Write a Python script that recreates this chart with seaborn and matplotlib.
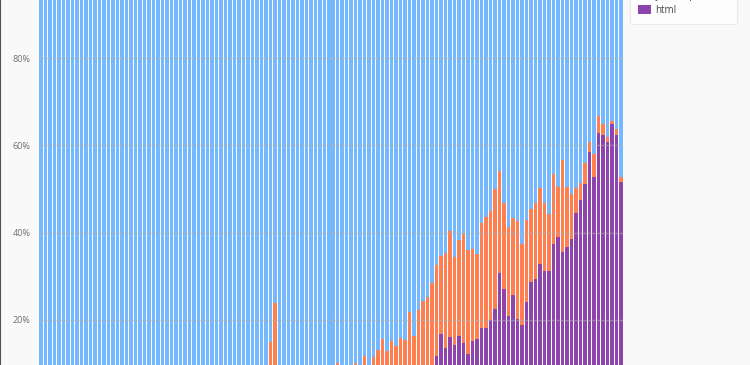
import numpy as np
import pandas as pd
import matplotlib
matplotlib.use("Agg")
import matplotlib.pyplot as plt
from matplotlib.patches import Patch
import seaborn as sns

# share per period (%)
html_pct = [0] * 80 + [
    2, 3, 4, 5, 6, 7, 8, 9,
    11.7, 16.7, 13.5, 16.0, 14.2, 16.3, 14.7, 12.1, 15.1, 15.6,
    18.1, 18.1, 19.9, 22.5, 30.7, 27.0, 20.8, 25.7, 20.2, 18.8,
    24.1, 28.6, 29.3, 32.8, 31.2, 31.2, 37.3, 38.9, 35.5, 36.7,
    38.5, 44.4, 47.4, 51.1, 58.4, 52.7, 62.8, 62.3, 60.7, 64.8,
    62.5, 51.5,
]
# html + orange series (top of orange segment)
orange_top_pct = [
    0, 0, 0, 0, 0, 0, 0, 0, 0, 0,
    0, 0, 0, 0, 0, 0, 0, 0, 0, 0,
    0, 0, 0, 0, 0, 0, 0, 0, 0, 0,
    0, 0, 0, 0, 0, 0, 0, 0, 0, 0,
    0, 0, 0, 0, 0, 0, 0, 0, 1, 2,
    3, 14.9, 23.8, 4, 3, 2, 3, 4, 3, 5,
    4, 6, 5, 7, 6, 8, 10.1, 7, 8, 9,
    10.1, 9, 11.7, 9, 11.5, 13.1, 15.6, 12.8, 15.1, 14.0,
    15.8, 15.3, 21.8, 16.3, 22.2, 24.3, 25.2, 28.4, 32.5, 34.6,
    35.3, 40.3, 34.4, 38.3, 39.6, 36.0, 36.2, 35.1, 42.2, 43.5,
    44.9, 49.9, 54.1, 46.7, 41.2, 43.3, 42.6, 37.3, 42.8, 45.4,
    46.7, 50.2, 46.7, 44.2, 53.4, 50.4, 56.6, 50.4, 48.8, 50.2,
    51.3, 55.9, 60.7, 58.0, 66.7, 64.8, 61.9, 65.5, 63.7, 52.7,
]
periods = list(range(len(html_pct)))
labels = ["other languages", "javascript", "html"]
colors = ["#74b9ff", "#ff7f50", "#8e44ad"]

df = pd.DataFrame({
    "period": periods,
    "html": html_pct,
    "orange_top": orange_top_pct,
})
df["total"] = 100.0

fig = plt.figure(figsize=(7.5, 3.65), dpi=100)
fig.patch.set_facecolor("#f9f9f9")
ax = fig.add_axes([39 / 750, -42 / 365, 584 / 750, 436 / 365])
ax.set_facecolor("white")

w = 0.78
sns.barplot(data=df, x="period", y="total", color=colors[0], saturation=1,
            width=w, ax=ax, linewidth=0)
sns.barplot(data=df, x="period", y="orange_top", color=colors[1], saturation=1,
            width=w, ax=ax, linewidth=0)
sns.barplot(data=df, x="period", y="html", color=colors[2], saturation=1,
            width=w, ax=ax, linewidth=0)

ax.set_xlim(-0.5, len(periods) - 0.5)
ax.set_ylim(0, 100)
ax.set_yticks([20, 40, 60, 80])
ax.set_yticklabels(["20%", "40%", "60%", "80%"])
ax.set_xticks([])
ax.set_xlabel("")
ax.set_ylabel("")
ax.tick_params(axis="y", length=0, pad=6, labelsize=6.5, labelcolor="#707070")
for lab in ax.get_yticklabels():
    lab.set_family("Open Sans")
ax.set_axisbelow(False)
ax.yaxis.grid(True, color="#b0b0b0", alpha=0.5, linewidth=1)
for s in ax.spines.values():
    s.set_visible(False)

handles = [Patch(facecolor=c, edgecolor="none") for c in colors]
leg = fig.legend(handles, labels, loc="lower left",
                 bbox_to_anchor=(630 / 750, (365 - 24) / 365),
                 frameon=True, handlelength=1.3, handleheight=1.0,
                 handletextpad=0.45, labelspacing=0.35, borderpad=0.85,
                 borderaxespad=0, prop={"family": "Open Sans", "size": 7})
leg.get_frame().set_edgecolor("#e6e6e6")
leg.get_frame().set_linewidth(0.8)
for t in leg.get_texts():
    t.set_color("#444444")

fig.add_artist(plt.Line2D([0.0005, 0.0005], [0, 1], color="#555555", lw=0.8,
                          transform=fig.transFigure))

fig.savefig("out.png", dpi=100, facecolor=fig.get_facecolor())
